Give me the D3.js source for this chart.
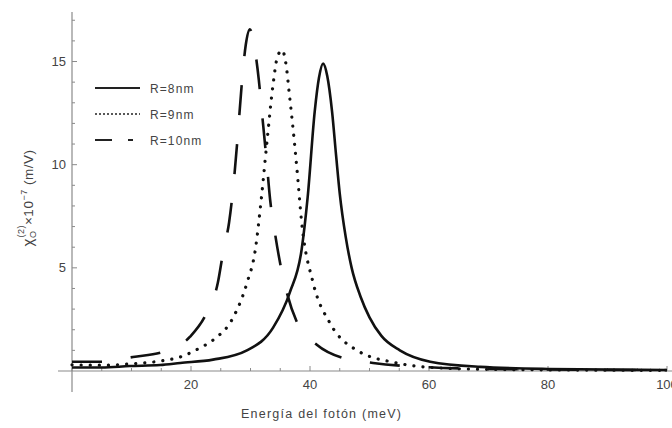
<!DOCTYPE html>
<html><head><meta charset="utf-8">
<script src="https://cdn.jsdelivr.net/npm/d3@7"></script>
<style>
body{margin:0;background:#fff;}
svg{display:block;font-family:"Liberation Sans",Arial,sans-serif;}
</style></head>
<body><svg id="c" width="672" height="428"></svg>
<script>
// ---- data (photon energy in meV, chi in 1e-7 m/V) ----
const seriesNames = ["R=8nm", "R=9nm", "R=10nm"];
const xTicks = [20, 40, 60, 80, 100];
const yTicks = [5, 10, 15];
const xMinorTicks = [0,5,10,15,25,30,35,45,50,55,65,70,75,85,90,95];
const yMinorTicks = [1,2,3,4,6,7,8,9,11,12,13,14,16,17];

const r8 = [[0,0.17],[5,0.17],[9.7,0.24],[14.8,0.29],[18.2,0.39],[23.7,0.55],[29.4,1.0],[33.8,2.1],[36.6,3.8],[38.6,5.9],[39.6,8.4],[40.8,12.6],[41.5,14.2],[42.2,14.9],[42.9,14.3],[43.7,12.6],[44.4,10.4],[45.0,8.6],[46.0,6.5],[47.0,5.0],[48.5,3.6],[50.0,2.6],[52.0,1.7],[55.1,1.0],[60.2,0.45],[68.6,0.2],[80,0.1],[100,0.05]];
const r9 = [[0,0.3],[5,0.28],[9.7,0.34],[14.8,0.48],[18.2,0.68],[21.5,1.12],[23.7,1.5],[27.1,2.6],[29.4,4.26],[30.8,5.86],[31.8,8.3],[32.8,11.2],[33.8,13.9],[34.5,15.2],[35.3,15.55],[36.0,14.8],[36.5,13.5],[37.2,11.6],[37.8,9.8],[38.6,7.2],[40.5,4.3],[43.4,2.3],[47.9,1.0],[54.6,0.39],[60,0.18],[70,0.08],[100,0.03]];
const r10 = [[0,0.45],[5,0.45],[10.25,0.68],[15.3,0.92],[19.8,1.65],[22.7,2.86],[24.5,4.26],[25.4,5.76],[26.4,7.2],[27.2,9.2],[27.8,11.2],[28.5,13.8],[29.2,15.8],[29.9,16.56],[30.6,15.8],[31.4,14.1],[31.9,12.6],[32.7,10.2],[33.3,8.3],[34.1,6.7],[35.0,5.2],[36.1,3.8],[37.8,2.37],[41.2,1.26],[45.5,0.63],[50.6,0.39],[60,0.18],[70,0.1],[100,0.04]];

const svg = d3.select("#c");
const x = d3.scaleLinear().domain([0, 100]).range([72, 667]);
const y = d3.scaleLinear().domain([0, 17.4]).range([371, 12]);

const axisColor = "#8a8a8a";
const textColor = "#444";

// axes lines
svg.append("line").attr("x1", 58).attr("x2", 672).attr("y1", y(0)).attr("y2", y(0))
  .attr("stroke", axisColor).attr("stroke-width", 1.2);
svg.append("line").attr("x1", x(0)).attr("x2", x(0)).attr("y1", y(17.4)).attr("y2", 392)
  .attr("stroke", axisColor).attr("stroke-width", 1.2);

// x ticks (inward)
const gx = svg.append("g");
gx.selectAll("line.maj").data(xTicks).join("line")
  .attr("x1", d => x(d)).attr("x2", d => x(d)).attr("y1", y(0)).attr("y2", y(0) - 5)
  .attr("stroke", axisColor);
gx.selectAll("line.min").data(xMinorTicks).join("line").attr("class","min")
  .attr("x1", d => x(d)).attr("x2", d => x(d)).attr("y1", y(0)).attr("y2", y(0) - 3)
  .attr("stroke", axisColor);
gx.selectAll("text").data(xTicks).join("text")
  .attr("x", d => x(d)).attr("y", 389).attr("text-anchor", "middle")
  .attr("font-size", 13).attr("fill", textColor).text(d => d);

// y ticks (inward)
const gy = svg.append("g");
gy.selectAll("line.maj").data(yTicks).join("line")
  .attr("x1", x(0)).attr("x2", x(0) + 5).attr("y1", d => y(d)).attr("y2", d => y(d))
  .attr("stroke", axisColor);
gy.selectAll("line.min").data(yMinorTicks).join("line").attr("class","min")
  .attr("x1", x(0)).attr("x2", x(0) + 3).attr("y1", d => y(d)).attr("y2", d => y(d))
  .attr("stroke", axisColor);
gy.selectAll("text").data(yTicks).join("text")
  .attr("x", 66).attr("y", d => y(d) + 4.5).attr("text-anchor", "end")
  .attr("font-size", 13).attr("fill", textColor).text(d => d);

// curves
const line = d3.line().x(d => x(d[0])).y(d => y(d[1])).curve(d3.curveMonotoneX);
const styles = [
  {data: r8, dash: null, w: 2.6, cap: "butt"},
  {data: r9, dash: "0.1 9", w: 3.2, cap: "round"},
  {data: r10, dash: "30 29", w: 2.6, cap: "butt"}
];
styles.forEach(s => {
  svg.append("path").attr("d", line(s.data)).attr("fill", "none")
    .attr("stroke", "#111").attr("stroke-width", s.w)
    .attr("stroke-linecap", s.cap)
    .attr("stroke-dasharray", s.dash);
});

// legend
const legY = [88, 114, 140];
const legDash = [null, "2 2", "17 16 5 100"];
const legW = [2.2, 1.5, 2.2];
const lg = svg.append("g");
seriesNames.forEach((name, i) => {
  lg.append("line").attr("x1", 95).attr("x2", 140).attr("y1", legY[i]).attr("y2", legY[i])
    .attr("stroke", "#222").attr("stroke-width", legW[i]).attr("stroke-dasharray", legDash[i]);
  lg.append("text").attr("x", 150).attr("y", legY[i] + 4.5).attr("font-size", 12)
    .attr("letter-spacing", 1.1).attr("fill", textColor).text(name);
});

// x label
svg.append("text").attr("x", 321).attr("y", 418).attr("text-anchor", "middle")
  .attr("font-size", 12.5).attr("fill", textColor)
  .attr("textLength", 160).attr("lengthAdjust", "spacing")
  .text("Energía del fotón (meV)");

// y label
const yl = svg.append("text").attr("transform", "translate(33,198) rotate(-90)")
  .attr("text-anchor", "middle").attr("font-size", 13.5).attr("fill", textColor)
  .attr("letter-spacing", 0.5);
yl.append("tspan").attr("font-size", 15).text("χ");
yl.append("tspan").attr("font-size", 9).attr("dy", 3).text("O");
yl.append("tspan").attr("font-size", 9).attr("dx", -7).attr("dy", -12).text("(2)");
yl.append("tspan").attr("dy", 9).text("×10");
yl.append("tspan").attr("font-size", 9).attr("dy", -6).text("−7");
yl.append("tspan").attr("dy", 6).text(" (m/V)");
</script></body></html>
